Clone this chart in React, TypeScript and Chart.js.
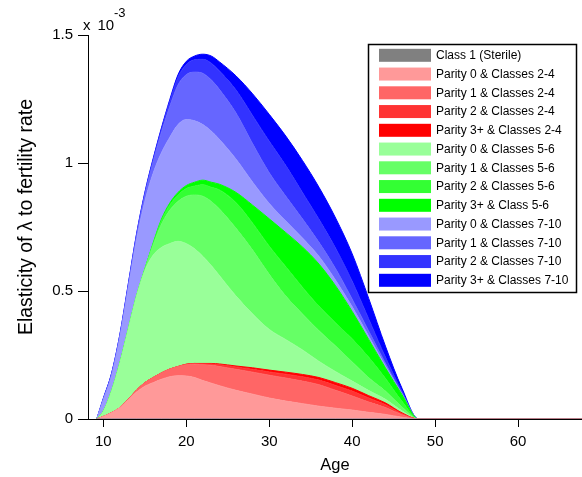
import React, { useEffect, useRef } from "react";
import { Chart, registerables } from "chart.js";

Chart.register(...registerables);

// Age (years)
const ages = [9.2, 10, 11, 12, 13, 14, 15, 16, 17, 18, 19, 20, 21, 22, 23, 24, 26, 28, 30, 32, 34, 36, 38, 40, 42, 44, 46, 48, 68];

// Elasticity values, in units of 10^-3 (layer thickness, stacked)
const sterile = [0, 0, 0, 0, 0, 0, 0, 0, 0, 0, 0, 0, 0, 0, 0, 0, 0, 0, 0, 0, 0, 0, 0, 0, 0, 0, 0, 0, 0];
const parity0Classes2to4 = [0, 0.01, 0.025, 0.045, 0.075, 0.105, 0.128, 0.142, 0.155, 0.165, 0.169, 0.168, 0.162, 0.15, 0.14, 0.13, 0.112, 0.097, 0.082, 0.07, 0.06, 0.05, 0.042, 0.035, 0.026, 0.018, 0.007, 0, 0];
const parity1Classes2to4 = [0, 0, 0, 0, 0.002, 0.008, 0.014, 0.02, 0.025, 0.03, 0.036, 0.044, 0.052, 0.062, 0.07, 0.075, 0.082, 0.086, 0.089, 0.09, 0.088, 0.084, 0.07, 0.055, 0.04, 0.027, 0.01, 0, 0];
const parity2Classes2to4 = [0, 0, 0, 0, 0, 0, 0, 0, 0, 0, 0, 0.002, 0.003, 0.004, 0.005, 0.007, 0.009, 0.011, 0.013, 0.015, 0.017, 0.018, 0.019, 0.019, 0.016, 0.011, 0.004, 0, 0];
const parity3Classes2to4 = [0, 0, 0, 0, 0, 0, 0, 0, 0, 0, 0, 0, 0, 0.001, 0.002, 0.003, 0.004, 0.006, 0.007, 0.008, 0.009, 0.01, 0.011, 0.011, 0.009, 0.007, 0.003, 0, 0];
const parity0Classes5to6 = [0, 0.02, 0.085, 0.175, 0.273, 0.367, 0.438, 0.478, 0.49, 0.49, 0.489, 0.471, 0.448, 0.418, 0.383, 0.345, 0.273, 0.21, 0.159, 0.127, 0.096, 0.063, 0.043, 0.028, 0.02, 0.014, 0.008, 0, 0];
const parity1Classes5to6 = [0, 0, 0, 0, 0, 0, 0.005, 0.04, 0.09, 0.13, 0.156, 0.185, 0.21, 0.235, 0.25, 0.26, 0.265, 0.25, 0.215, 0.17, 0.14, 0.12, 0.1, 0.075, 0.05, 0.032, 0.015, 0, 0];
const parity2Classes5to6 = [0, 0, 0, 0, 0, 0, 0, 0.005, 0.015, 0.02, 0.025, 0.03, 0.035, 0.045, 0.055, 0.075, 0.1, 0.105, 0.11, 0.115, 0.105, 0.095, 0.09, 0.09, 0.08, 0.05, 0.022, 0, 0];
const parity3Class5to6 = [0, 0, 0, 0, 0, 0, 0, 0.002, 0.005, 0.008, 0.01, 0.012, 0.015, 0.018, 0.02, 0.022, 0.04, 0.07, 0.107, 0.133, 0.157, 0.165, 0.145, 0.107, 0.069, 0.041, 0.026, 0, 0];
const parity0Classes7to10 = [0, 0.045, 0.06, 0.1, 0.16, 0.22, 0.265, 0.273, 0.26, 0.257, 0.265, 0.258, 0.24, 0.217, 0.2, 0.175, 0.13, 0.09, 0.06, 0.045, 0.035, 0.03, 0.022, 0.018, 0.013, 0.008, 0.003, 0, 0];
const parity1Classes7to10 = [0, 0.003, 0.005, 0.007, 0.01, 0.015, 0.025, 0.045, 0.08, 0.12, 0.155, 0.175, 0.19, 0.2, 0.2, 0.195, 0.18, 0.15, 0.12, 0.097, 0.075, 0.055, 0.045, 0.03, 0.02, 0.01, 0.003, 0, 0];
const parity2Classes7to10 = [0, 0.002, 0.003, 0.003, 0.004, 0.005, 0.006, 0.008, 0.012, 0.02, 0.03, 0.04, 0.048, 0.055, 0.065, 0.072, 0.09, 0.11, 0.123, 0.12, 0.103, 0.09, 0.08, 0.07, 0.047, 0.024, 0.007, 0, 0];
const parity3Classes7to10 = [0, 0.001, 0.002, 0.002, 0.003, 0.003, 0.004, 0.004, 0.005, 0.007, 0.01, 0.012, 0.015, 0.02, 0.028, 0.036, 0.055, 0.085, 0.105, 0.115, 0.125, 0.125, 0.118, 0.107, 0.08, 0.043, 0.012, 0, 0];

const seriesLabels = [
  "Class 1 (Sterile)",
  "Parity 0 & Classes 2-4",
  "Parity 1 & Classes 2-4",
  "Parity 2 & Classes 2-4",
  "Parity 3+ & Classes 2-4",
  "Parity 0 & Classes 5-6",
  "Parity 1 & Classes 5-6",
  "Parity 2 & Classes 5-6",
  "Parity 3+ & Class 5-6",
  "Parity 0 & Classes 7-10",
  "Parity 1 & Classes 7-10",
  "Parity 2 & Classes 7-10",
  "Parity 3+ & Classes 7-10",
];
const seriesValues = [
  sterile,
  parity0Classes2to4,
  parity1Classes2to4,
  parity2Classes2to4,
  parity3Classes2to4,
  parity0Classes5to6,
  parity1Classes5to6,
  parity2Classes5to6,
  parity3Class5to6,
  parity0Classes7to10,
  parity1Classes7to10,
  parity2Classes7to10,
  parity3Classes7to10,
];
const seriesColors = [
  "#808080",
  "#ff9999", "#ff6666", "#ff3333", "#ff0000",
  "#99ff99", "#66ff66", "#33ff33", "#00ff00",
  "#9999ff", "#6666ff", "#3333ff", "#0000ff",
];

const xTicks = [10, 20, 30, 40, 50, 60];
const yTicks = [0, 0.5, 1, 1.5];
const yTitle = "Elasticity of λ to fertility rate";

const FONT = '"Liberation Sans", Arial, sans-serif';

const boxLegendPlugin = {
  id: "boxLegend",
  afterDraw(chart: any) {
    const ctx = chart.ctx;
    ctx.save();
    ctx.fillStyle = "#000";
    ctx.textAlign = "left";

    // y axis title
    ctx.save();
    ctx.translate(27, 217);
    ctx.rotate(-Math.PI / 2);
    ctx.textAlign = "center";
    ctx.textBaseline = "middle";
    ctx.font = `19.5px ${FONT}`;
    ctx.fillText(yTitle, 0, 0);
    ctx.restore();

    // exponent label
    ctx.textBaseline = "alphabetic";
    ctx.font = `15px ${FONT}`;
    ctx.fillText("x", 83, 29.5);
    ctx.fillText("10", 97.5, 29.5);
    ctx.font = `13px ${FONT}`;
    ctx.fillText("-3", 114, 16.5);

    // legend box
    const bx = 368.5, by = 44.5, bw = 208, bh = 248;
    ctx.fillStyle = "#fff";
    ctx.fillRect(bx, by, bw, bh);
    ctx.lineWidth = 1.5;
    ctx.strokeStyle = "#000";
    ctx.strokeRect(bx, by, bw, bh);
    ctx.font = `12px ${FONT}`;
    ctx.textBaseline = "middle";
    chart.data.datasets.forEach((ds: any, i: number) => {
      const cy = 55.3 + i * 18.75;
      ctx.fillStyle = ds.backgroundColor;
      ctx.fillRect(379, cy - 6.5, 52, 13);
      ctx.fillStyle = "#000";
      ctx.fillText(ds.label, 436, cy + 0.5);
    });
    ctx.restore();
  },
};

export default function App() {
  const canvasRef = useRef<HTMLCanvasElement | null>(null);

  useEffect(() => {
    if (!canvasRef.current) return;
    const datasets = seriesValues.map((vals, i) => ({
      label: seriesLabels[i],
      data: ages.map((a, j) => ({ x: a, y: vals[j] })),
      backgroundColor: seriesColors[i],
      borderColor: i === 0 ? "#77809f" : seriesColors[i],
      borderWidth: 1,
      fill: i === 0 ? "origin" : "-1",
      pointRadius: 0,
      pointHoverRadius: 0,
      cubicInterpolationMode: "monotone" as const,
    }));

    const chart = new Chart(canvasRef.current, {
      type: "line",
      data: { datasets },
      options: {
        responsive: false,
        animation: false,
        devicePixelRatio: 1,
        layout: { padding: { top: 35, left: 0, right: 0, bottom: 0 } },
        plugins: {
          legend: { display: false },
          tooltip: { enabled: false },
        },
        scales: {
          x: {
            type: "linear",
            min: 8.15,
            max: 67.7,
            afterBuildTicks: (s: any) => {
              s.ticks = xTicks.map((v) => ({ value: v }));
            },
            afterFit: (s: any) => {
              s.height = 58;
            },
            grid: { drawOnChartArea: false, drawTicks: true, tickLength: 8, color: "#000", tickColor: "#000" },
            border: { display: true, color: "#000", width: 1 },
            ticks: { font: { family: FONT, size: 15 }, color: "#000", padding: 6, maxRotation: 0, autoSkip: false },
            title: { display: true, text: "Age", font: { family: FONT, size: 16.5 }, color: "#000", padding: { top: 0, bottom: 2 } },
          },
          y: {
            type: "linear",
            stacked: true,
            min: 0,
            max: 1.5,
            afterBuildTicks: (s: any) => {
              s.ticks = yTicks.map((v) => ({ value: v }));
            },
            afterFit: (s: any) => {
              s.width = 88;
            },
            grid: { drawOnChartArea: false, drawTicks: true, tickLength: 10, color: "#000", tickColor: "#000" },
            border: { display: true, color: "#000", width: 1 },
            ticks: { font: { family: FONT, size: 15 }, color: "#000", padding: 5, callback: (v: any) => String(v) },
            title: { display: false },
          },
        },
      },
      plugins: [boxLegendPlugin],
    } as any);

    return () => chart.destroy();
  }, []);

  return (
    <div style={{ position: "absolute", left: 0, top: 0, width: 582, height: 477, background: "#fff" }}>
      <canvas ref={canvasRef} width={582} height={477} style={{ display: "block" }} />
    </div>
  );
}
